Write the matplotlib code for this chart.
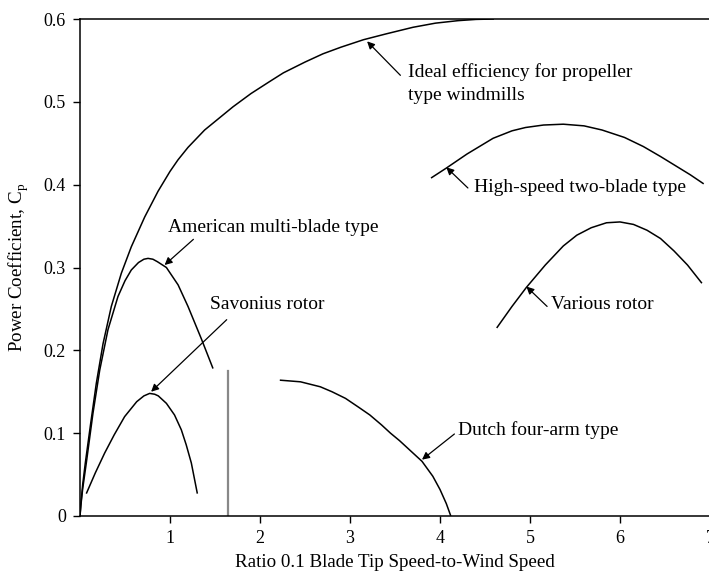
import matplotlib
matplotlib.use("Agg")
from matplotlib import pyplot as plt

plt.rcParams['font.family'] = ['Liberation Serif', 'DejaVu Serif']

# Ideal efficiency for propeller type windmills
ideal_x = [0, 0.01, 0.03, 0.059, 0.119, 0.181, 0.256, 0.348, 0.459, 0.57,
           0.719, 0.867, 1.0, 1.089, 1.2, 1.385, 1.52, 1.7, 1.9, 2.1, 2.26,
           2.5, 2.7, 2.9, 3.15, 3.4, 3.7, 3.95, 4.2, 4.4, 4.6]
ideal_y = [0, 0.015, 0.038, 0.064, 0.112, 0.160, 0.208, 0.253, 0.293, 0.325,
           0.361, 0.392, 0.416, 0.430, 0.445, 0.466, 0.478, 0.494, 0.51, 0.524,
           0.535, 0.548, 0.558, 0.566, 0.575, 0.582, 0.59, 0.595, 0.598, 0.5995,
           0.60]

# American multi-blade type
amer_x = [0, 0.01, 0.03, 0.07, 0.144, 0.219, 0.311, 0.422, 0.5, 0.57, 0.65,
          0.71, 0.756, 0.81, 0.86, 0.96, 1.09, 1.2, 1.348, 1.478]
amer_y = [0, 0.013, 0.033, 0.064, 0.124, 0.176, 0.225, 0.265, 0.284, 0.297,
          0.306, 0.310, 0.311, 0.310, 0.307, 0.300, 0.279, 0.253, 0.214, 0.178]

# Savonius rotor
sav_x = [0.07, 0.17, 0.274, 0.38, 0.496, 0.63, 0.71, 0.774, 0.83, 0.87, 0.96,
         1.05, 1.126, 1.18, 1.237, 1.304]
sav_y = [0.027, 0.052, 0.076, 0.098, 0.12, 0.138, 0.145, 0.148, 0.147, 0.145,
         0.136, 0.122, 0.104, 0.086, 0.064, 0.027]

# Dutch four-arm type
dutch_x = [2.22, 2.45, 2.67, 2.8, 2.95, 3.1, 3.22, 3.35, 3.45, 3.55, 3.65, 3.72,
           3.80, 3.92, 4.0, 4.07, 4.12]
dutch_y = [0.164, 0.162, 0.156, 0.150, 0.142, 0.131, 0.122, 0.110, 0.100, 0.091,
           0.081, 0.074, 0.066, 0.048, 0.032, 0.015, 0.0]

# High-speed two-blade type
hs_x = [3.90, 4.07, 4.3, 4.59, 4.8, 4.95, 5.15, 5.37, 5.6, 5.8, 6.05, 6.26,
        6.45, 6.6, 6.78, 6.93]
hs_y = [0.408, 0.42, 0.437, 0.456, 0.465, 0.469, 0.472, 0.473, 0.471, 0.466,
        0.457, 0.446, 0.434, 0.424, 0.412, 0.401]

# Various rotor
var_x = [4.63, 4.8, 4.96, 5.17, 5.37, 5.52, 5.68, 5.85, 6.0, 6.15, 6.3, 6.45,
         6.6, 6.75, 6.91]
var_y = [0.227, 0.253, 0.276, 0.303, 0.326, 0.339, 0.348, 0.354, 0.355, 0.352,
         0.345, 0.335, 0.320, 0.303, 0.281]

# grey marker line
marker_x = 1.64
marker_top = 0.175

# labels: text, text position, arrow tail, arrow head
labels = [
    ("Ideal efficiency for propeller\ntype windmills", (3.644, 0.522), (3.56, 0.532), (3.19, 0.573)),
    ("High-speed two-blade type", (4.378, 0.396), (4.31, 0.396), (4.07, 0.421)),
    ("American multi-blade type", (0.978, 0.348), (1.26, 0.334), (0.94, 0.303)),
    ("Savonius rotor", (1.444, 0.255), (1.63, 0.237), (0.79, 0.150)),
    ("Various rotor", (5.233, 0.255), (5.19, 0.253), (4.96, 0.277)),
    ("Dutch four-arm type", (4.2, 0.104), (4.16, 0.099), (3.80, 0.068)),
]

fig = plt.figure(figsize=(7.09, 5.75), dpi=100)
ax = fig.add_axes([80/709, 59/575, 630/709, 497/575])

lw = 1.1
for xs, ys in [(ideal_x, ideal_y), (amer_x, amer_y), (sav_x, sav_y),
               (dutch_x, dutch_y), (hs_x, hs_y), (var_x, var_y)]:
    ax.plot(xs, ys, color='k', linewidth=lw, solid_joinstyle='round',
            solid_capstyle='butt')

ax.plot([marker_x, marker_x], [0, marker_top], color='#888888', linewidth=1.6)

for text, tpos, tail, head in labels:
    ax.text(tpos[0], tpos[1], text, fontsize=14, ha='left', va='center',
            linespacing=1.4)
    ax.annotate('', xy=head, xytext=tail,
                arrowprops=dict(arrowstyle='-|>', color='k', lw=0.9,
                                mutation_scale=11, shrinkA=0, shrinkB=0))

ax.set_xlim(0, 7)
ax.set_ylim(0, 0.6)
ax.set_xticks([1, 2, 3, 4, 5, 6, 7])
ax.set_yticks([0, 0.1, 0.2, 0.3, 0.4, 0.5, 0.6])
ax.set_yticklabels(['0', '0.1', '0.2', '0.3', '0.4', '0.5', '0.6'])
ax.tick_params(direction='out', length=5, width=1, labelsize=13, pad=5)
ax.spines['right'].set_visible(False)
for s in ['left', 'bottom', 'top']:
    ax.spines[s].set_linewidth(1.1)

ax.set_xlabel('Ratio 0.1 Blade Tip Speed-to-Wind Speed', fontsize=13.7)
ax.set_ylabel('Power Coefficient, C$_\\mathregular{p}$', fontsize=13.7)
ax.xaxis.set_label_coords(0.5, -0.077)
ax.yaxis.set_label_coords(-0.077, 0.5)

fig.savefig('out.png', dpi=100)
